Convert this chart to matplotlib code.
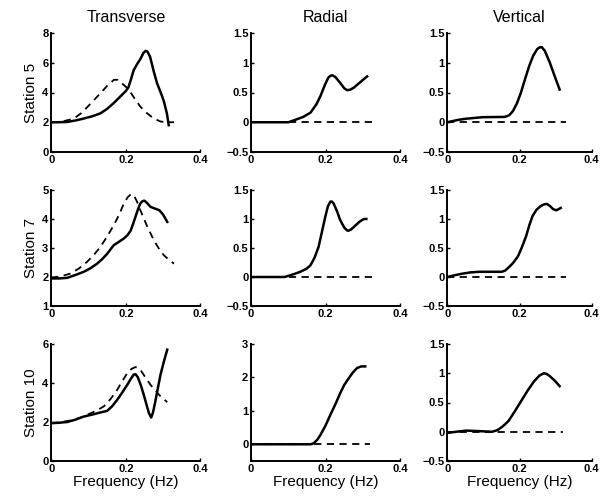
import matplotlib.pyplot as plt

plt.rcParams['font.family'] = ['Liberation Sans', 'DejaVu Sans']

# --- Station 5 ---
f_t5 = [0, 0.02, 0.043, 0.065, 0.0875, 0.11, 0.132, 0.15, 0.168, 0.186, 0.2, 0.207, 0.214,
        0.221, 0.23, 0.239, 0.247, 0.253, 0.258, 0.265, 0.275, 0.284, 0.295, 0.302, 0.31, 0.315]
t5_solid = [2.0, 2.0, 2.02, 2.12, 2.25, 2.4, 2.6, 2.9, 3.3, 3.75, 4.1, 4.35, 4.9,
            5.5, 5.9, 6.25, 6.65, 6.8, 6.75, 6.4, 5.4, 4.6, 3.9, 3.4, 2.6, 1.8]
fd_t5 = [0, 0.03, 0.061, 0.08, 0.096, 0.115, 0.132, 0.15, 0.168, 0.178, 0.186, 0.197,
         0.208, 0.222, 0.239, 0.257, 0.275, 0.293, 0.311, 0.329]
t5_dash = [2.0, 2.05, 2.25, 2.6, 3.0, 3.5, 3.95, 4.45, 4.85, 4.85, 4.7, 4.45,
           4.2, 3.65, 3.05, 2.6, 2.25, 2.05, 2.0, 2.0]

f_r5 = [0, 0.1, 0.114, 0.14, 0.159, 0.175, 0.186, 0.198, 0.207, 0.2125, 0.218, 0.226,
        0.239, 0.25, 0.257, 0.265, 0.275, 0.29, 0.311]
r5_solid = [0, 0, 0.03, 0.09, 0.16, 0.3, 0.44, 0.63, 0.75, 0.78, 0.79, 0.76,
            0.66, 0.57, 0.54, 0.545, 0.58, 0.66, 0.77]

f_v5 = [0, 0.03, 0.053, 0.098, 0.16, 0.172, 0.182, 0.193, 0.204, 0.215, 0.227, 0.238,
        0.249, 0.256, 0.262, 0.27, 0.284, 0.297, 0.311]
v5_solid = [0, 0.04, 0.06, 0.085, 0.09, 0.12, 0.19, 0.32, 0.5, 0.72, 0.95, 1.12,
            1.23, 1.26, 1.26, 1.2, 1.0, 0.78, 0.55]

# --- Station 7 ---
f_t7 = [0, 0.02, 0.043, 0.065, 0.0875, 0.105, 0.123, 0.137, 0.15, 0.16, 0.168, 0.18,
        0.195, 0.205, 0.213, 0.22, 0.226, 0.233, 0.239, 0.245, 0.25, 0.257, 0.266, 0.28,
        0.29, 0.3, 0.311]
t7_solid = [1.95, 1.95, 1.97, 2.07, 2.18, 2.3, 2.46, 2.62, 2.8, 2.97, 3.1, 3.2,
            3.33, 3.45, 3.6, 3.85, 4.08, 4.35, 4.54, 4.62, 4.63, 4.55, 4.42, 4.35,
            4.3, 4.15, 3.9]
fd_t7 = [0, 0.025, 0.052, 0.075, 0.096, 0.115, 0.132, 0.15, 0.168, 0.182, 0.195, 0.205,
         0.213, 0.221, 0.23, 0.239, 0.257, 0.275, 0.29, 0.302, 0.315, 0.329]
t7_dash = [1.98, 2.02, 2.12, 2.3, 2.52, 2.77, 3.04, 3.4, 3.79, 4.15, 4.54, 4.75,
           4.85, 4.83, 4.6, 4.3, 3.75, 3.27, 2.95, 2.75, 2.6, 2.46]

f_r7 = [0, 0.09, 0.1, 0.115, 0.132, 0.148, 0.159, 0.17, 0.181, 0.19, 0.199, 0.206,
        0.2125, 0.217, 0.221, 0.23, 0.239, 0.25, 0.258, 0.262, 0.268, 0.275, 0.29,
        0.302, 0.309]
r7_solid = [0, 0, 0.02, 0.05, 0.09, 0.14, 0.2, 0.33, 0.52, 0.78, 1.04, 1.22,
            1.3, 1.3, 1.27, 1.14, 0.98, 0.85, 0.8, 0.8, 0.82, 0.86, 0.95,
            1.0, 1.0]

f_v7 = [0, 0.02, 0.044, 0.065, 0.089, 0.151, 0.16, 0.169, 0.182, 0.196, 0.207, 0.218,
        0.227, 0.236, 0.247, 0.258, 0.267, 0.276, 0.285, 0.293, 0.302, 0.314]
v7_solid = [0, 0.03, 0.06, 0.08, 0.09, 0.09, 0.11, 0.16, 0.24, 0.36, 0.52, 0.7,
            0.89, 1.05, 1.16, 1.22, 1.25, 1.26, 1.22, 1.17, 1.15, 1.19]

# --- Station 10 ---
f_t10 = [0, 0.02, 0.043, 0.065, 0.0875, 0.11, 0.132, 0.15, 0.163, 0.177, 0.19, 0.204,
         0.213, 0.221, 0.226, 0.232, 0.24, 0.248, 0.256, 0.262, 0.268, 0.273, 0.279,
         0.286, 0.293, 0.302, 0.311]
t10_solid = [1.94, 1.96, 2.0, 2.12, 2.28, 2.38, 2.49, 2.57, 2.8, 3.14, 3.5, 3.91,
             4.2, 4.43, 4.45, 4.3, 3.9, 3.4, 2.85, 2.45, 2.23, 2.5, 3.05,
             3.75, 4.43, 5.1, 5.71]
fd_t10 = [0, 0.025, 0.052, 0.075, 0.096, 0.12, 0.141, 0.16, 0.177, 0.19, 0.204, 0.215,
          0.226, 0.232, 0.239, 0.252, 0.266, 0.28, 0.293, 0.311]
t10_dash = [1.94, 1.99, 2.08, 2.2, 2.37, 2.57, 2.8, 3.2, 3.65, 4.08, 4.51, 4.72,
            4.82, 4.78, 4.68, 4.3, 3.91, 3.6, 3.31, 3.02]

f_r10 = [0, 0.16, 0.168, 0.177, 0.186, 0.2, 0.2125, 0.226, 0.239, 0.25, 0.262, 0.273,
         0.284, 0.295, 0.306]
r10_solid = [0, 0, 0.03, 0.13, 0.28, 0.57, 0.88, 1.2, 1.53, 1.78, 1.98, 2.15,
             2.28, 2.33, 2.33]

f_v10 = [0, 0.025, 0.053, 0.09, 0.124, 0.135, 0.142, 0.155, 0.169, 0.186, 0.204, 0.222,
         0.24, 0.255, 0.267, 0.275, 0.284, 0.298, 0.311]
v10_solid = [-0.02, 0.0, 0.02, 0.01, 0.0, 0.02, 0.04, 0.1, 0.18, 0.34, 0.52, 0.7,
             0.86, 0.96, 1.0, 0.99, 0.95, 0.87, 0.78]

f_zero = [0, 0.33]
f_zero10 = [0, 0.32]
zero_line = [0, 0]

stations = ['Station 5', 'Station 7', 'Station 10']
components = ['Transverse', 'Radial', 'Vertical']

panels = [
    [(f_t5, t5_solid, fd_t5, t5_dash, (0, 8), [0, 2, 4, 6, 8]),
     (f_r5, r5_solid, f_zero, zero_line, (-0.5, 1.5), [-0.5, 0, 0.5, 1, 1.5]),
     (f_v5, v5_solid, f_zero, zero_line, (-0.5, 1.5), [-0.5, 0, 0.5, 1, 1.5])],
    [(f_t7, t7_solid, fd_t7, t7_dash, (1, 5), [1, 2, 3, 4, 5]),
     (f_r7, r7_solid, f_zero, zero_line, (-0.5, 1.5), [-0.5, 0, 0.5, 1, 1.5]),
     (f_v7, v7_solid, f_zero, zero_line, (-0.5, 1.5), [-0.5, 0, 0.5, 1, 1.5])],
    [(f_t10, t10_solid, fd_t10, t10_dash, (0, 6), [0, 2, 4, 6]),
     (f_r10, r10_solid, f_zero10, zero_line, (-0.5, 3), [0, 1, 2, 3]),
     (f_v10, v10_solid, f_zero10, zero_line, (-0.5, 1.5), [-0.5, 0, 0.5, 1, 1.5])],
]

fig = plt.figure(figsize=(6.02, 5.0), dpi=100)

lefts = [0.085, 0.417, 0.743]
widths = [0.248, 0.248, 0.240]
bottoms = [0.696, 0.388, 0.078]
heights = [0.238, 0.232, 0.234]


def fmt(v):
    if v == int(v):
        return '%d' % v
    return ('%g' % v).replace('-', '\u2212')


for r in range(3):
    for c in range(3):
        fs, ys, fd, yd, ylim, yticks = panels[r][c]
        ax = fig.add_axes([lefts[c], bottoms[r], widths[c], heights[r]])
        ax.plot(fd, yd, color='black', lw=1.3, ls=(0, (4, 3)))
        ax.plot(fs, ys, color='black', lw=1.8)
        ax.set_xlim(0, 0.4)
        ax.set_ylim(*ylim)
        ax.set_xticks([0, 0.2, 0.4])
        ax.set_xticklabels(['0', '0.2', '0.4'])
        ax.set_yticks(yticks)
        ax.set_yticklabels([fmt(v) for v in yticks])
        for side in ['top', 'right']:
            ax.spines[side].set_visible(False)
        for side in ['left', 'bottom']:
            ax.spines[side].set_linewidth(1.4)
        ax.tick_params(direction='in', length=2, width=1, labelsize=8, pad=2)
        for lab in ax.get_xticklabels() + ax.get_yticklabels():
            lab.set_fontweight('bold')
        if r == 0:
            ax.set_title(components[c], fontsize=11.5, pad=8)
        if c == 0:
            ax.set_ylabel(stations[r], fontsize=11, labelpad=3)
        if r == 2:
            ax.set_xlabel('Frequency (Hz)', fontsize=11, labelpad=1)

fig.savefig('out.png', dpi=100)
